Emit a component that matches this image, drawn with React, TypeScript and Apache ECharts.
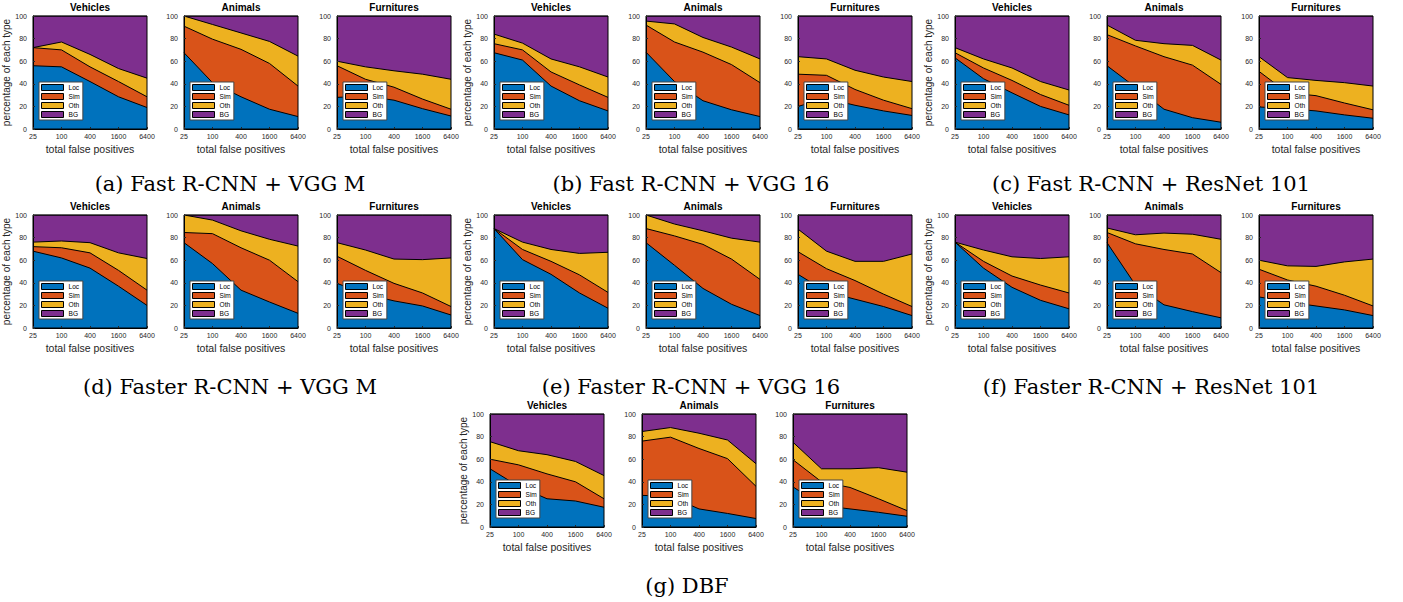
import React, { useEffect, useRef } from 'react';
import * as echarts from 'echarts';

// ---------- data (cumulative stack tops, in %) ----------
const xTicks = ['25', '100', '400', '1600', '6400'];
const panelTitles = ['Vehicles', 'Animals', 'Furnitures'];
const seriesNames = ['Loc', 'Sim', 'Oth', 'BG'];
const captions = [
  '(a) Fast R-CNN + VGG M',
  '(b) Fast R-CNN + VGG 16',
  '(c) Fast R-CNN + ResNet 101',
  '(d) Faster R-CNN + VGG M',
  '(e) Faster R-CNN + VGG 16',
  '(f) Faster R-CNN + ResNet 101',
  '(g) DBF',
];
// each array: [Vehicles, Animals, Furnitures]
const locA = [[56, 55, 42, 28.5, 19], [67.5, 41, 28.5, 17.5, 11], [28, 29, 25.5, 18, 11.5]];
const simA = [[72, 70, 55, 42, 28.5], [91, 79.5, 70.5, 58, 38], [56, 44, 37, 26.5, 17.5]];
const othA = [[72, 77, 66, 53.5, 45], [100, 92.5, 85, 77.5, 64.5], [60, 55, 51.5, 48.5, 44]];

const locB = [[67.5, 61, 38, 25, 16], [68, 42, 25, 17, 11], [20, 27, 21, 16, 12]];
const simB = [[75.5, 70, 50.5, 39, 28], [92, 77, 68, 57, 41], [48.5, 47.5, 35, 25.5, 18]];
const othB = [[84, 76, 62, 55, 46], [95.5, 93, 81, 72.5, 62], [64, 62, 52, 46, 42]];

const locC = [[63, 44.5, 32, 20, 12.5], [56, 37, 17.5, 10, 6], [19.5, 18, 16, 12.5, 9.5]];
const simC = [[67.5, 54, 43, 30.5, 21], [83.5, 73.5, 64, 56.5, 39.5], [51, 32, 29.5, 23, 17]];
const othC = [[72, 62, 54, 42, 34.5], [92, 78.5, 75.5, 74, 61], [64, 45.5, 43, 41, 38]];

const locD = [[68, 62, 53, 37, 20], [75.5, 57, 33.5, 23, 13], [39.5, 30, 24, 19.5, 11.5]];
const simD = [[72, 71, 66.5, 51, 33.5], [84.5, 83.5, 71, 60, 41], [63.5, 51, 39.5, 31, 19]];
const othD = [[76, 77, 75.5, 66.5, 61.5], [100, 95.5, 86, 78.5, 72.5], [75.5, 69, 61, 60.5, 62]];

const locE = [[88, 60.5, 47.5, 31, 17.5], [75.5, 55.5, 35, 21, 11], [47.5, 32, 25.5, 19, 11]];
const simE = [[88, 69.5, 59, 47, 31.5], [88, 81.5, 74, 61, 43], [67.5, 52.5, 42, 30, 19]];
const othE = [[88, 76, 69.5, 66, 67], [100, 92, 86, 79.5, 76], [87.5, 68, 59, 59, 65.5]];

const locF = [[76, 53, 36, 24.5, 17], [75.5, 38, 20.5, 14.5, 9], [27.5, 23, 19.5, 16, 11]];
const simF = [[76, 59, 46, 38, 31], [84.5, 74.5, 69.5, 65.5, 49], [52, 42.5, 37, 29, 19.5]];
const othF = [[76, 69, 63, 61.5, 63], [88.5, 82.5, 84, 83, 78.5], [60, 55, 54.5, 58.5, 61]];

const locG = [[51.5, 36, 25, 23, 17.5], [28, 27, 16, 12, 7.5], [35.5, 19, 16, 13, 9.5]];
const simG = [[60, 55, 47, 40, 25], [76, 79.5, 69.5, 60.5, 36], [59.5, 40, 35, 25, 14.5]];
const othG = [[75.5, 67.5, 64, 58, 45.5], [84.5, 88, 83, 77, 56], [75, 51.5, 51.5, 52.5, 48.5]];

const bgTop = [100, 100, 100, 100, 100];

// ---------- layout / style ----------
const COLORS: Record<string, string> = { Loc: '#0072BD', Sim: '#D95319', Oth: '#EDB120', BG: '#7E2F8E' };
const SANS = '"Liberation Sans", Arial, Helvetica, sans-serif';
const SERIF = '"DejaVu Serif", "Liberation Serif", serif';
const PW = 114;
const PH = 113;
const rowTop = [16, 215, 414];
const captionY = [184, 387, 586];
const groupLayout = [
  { row: 0, lefts: [33, 184, 337], cx: 230 },
  { row: 0, lefts: [494, 646, 798], cx: 691 },
  { row: 0, lefts: [955, 1107, 1259], cx: 1151 },
  { row: 1, lefts: [33, 184, 337], cx: 230 },
  { row: 1, lefts: [494, 646, 798], cx: 691 },
  { row: 1, lefts: [955, 1107, 1259], cx: 1151 },
  { row: 2, lefts: [490, 642, 793], cx: 687 },
];

function buildOption() {
  const groups = [
    [locA, simA, othA],
    [locB, simB, othB],
    [locC, simC, othC],
    [locD, simD, othD],
    [locE, simE, othE],
    [locF, simF, othF],
    [locG, simG, othG],
  ];
  const grid: any[] = [];
  const xAxis: any[] = [];
  const yAxis: any[] = [];
  const series: any[] = [];
  const legend: any[] = [];
  const graphic: any[] = [];

  groups.forEach((g, gi) => {
    const lay = groupLayout[gi];
    const top = rowTop[lay.row];
    for (let p = 0; p < 3; p++) {
      const idx = gi * 3 + p;
      const left = lay.lefts[p];
      grid.push({
        left, top, width: PW, height: PH,
        show: true, backgroundColor: 'transparent', borderColor: '#000', borderWidth: 1, z: 3,
      });
      xAxis.push({
        gridIndex: idx, type: 'category', data: xTicks, boundaryGap: false, z: 4,
        axisLine: { lineStyle: { color: '#000', width: 1 } },
        axisTick: { inside: true, length: 2, lineStyle: { color: '#262626' } },
        axisLabel: { fontSize: 7, color: '#262626', margin: 4, fontFamily: SANS, interval: 0 },
        splitLine: { show: false },
        name: 'total false positives', nameLocation: 'middle', nameGap: 14,
        nameTextStyle: { fontSize: 10.5, color: '#262626', fontFamily: SANS },
      });
      yAxis.push({
        gridIndex: idx, type: 'value', min: 0, max: 100, interval: 20, z: 4,
        axisLine: { show: true, lineStyle: { color: '#000', width: 1 } },
        axisTick: { show: true, inside: true, length: 2, lineStyle: { color: '#262626' } },
        axisLabel: { fontSize: 7, color: '#262626', margin: 6, fontFamily: SANS },
        splitLine: { show: false },
        name: p === 0 ? 'percentage of each type' : '', nameLocation: 'middle', nameGap: 17,
        nameTextStyle: { fontSize: 10, color: '#262626', fontFamily: SANS },
      });
      const tops: Record<string, number[]> = {
        BG: bgTop, Oth: g[2][p], Sim: g[1][p], Loc: g[0][p],
      };
      ['BG', 'Oth', 'Sim', 'Loc'].forEach((name) => {
        series.push({
          type: 'line', name, xAxisIndex: idx, yAxisIndex: idx, data: tops[name],
          symbol: 'none', silent: true, z: 2,
          itemStyle: { color: COLORS[name] },
          lineStyle: { color: '#000', width: 1 },
          areaStyle: { color: COLORS[name], opacity: 1 },
        });
      });
      legend.push({
        left: left + 6, top: top + PH - 47, orient: 'vertical', icon: 'rect',
        itemWidth: 22, itemHeight: 6, itemGap: 2, padding: [2, 3, 2, 2],
        backgroundColor: '#fff', borderColor: '#444', borderWidth: 1, selectedMode: false, z: 6,
        textStyle: { fontSize: 6.6, color: '#000', fontFamily: SANS },
        data: seriesNames.map((n) => ({
          name: n, itemStyle: { color: COLORS[n], borderColor: '#000', borderWidth: 1 },
        })),
      });
      graphic.push({
        type: 'text', x: left + PW / 2, y: top - 9, silent: true,
        style: {
          text: panelTitles[p], fill: '#000', font: `bold 10px ${SANS}`,
          align: 'center', verticalAlign: 'middle', textAlign: 'center', textVerticalAlign: 'middle',
        },
      });
    }
    graphic.push({
      type: 'text', x: lay.cx, y: captionY[lay.row], silent: true,
      style: {
        text: captions[gi], fill: '#000', font: `21px ${SERIF}`,
        align: 'center', verticalAlign: 'middle', textAlign: 'center', textVerticalAlign: 'middle',
      },
    });
  });

  return { animation: false, backgroundColor: '#fff', grid, xAxis, yAxis, series, legend, graphic };
}

export default function App() {
  const ref = useRef<HTMLDivElement>(null);
  useEffect(() => {
    if (!ref.current) return;
    const chart = echarts.init(ref.current, undefined, { renderer: 'svg' });
    chart.setOption(buildOption() as any);
    return () => chart.dispose();
  }, []);
  return (
    <div
      ref={ref}
      style={{ position: 'absolute', left: 0, top: 0, width: 1403, height: 602, background: '#fff' }}
    />
  );
}
